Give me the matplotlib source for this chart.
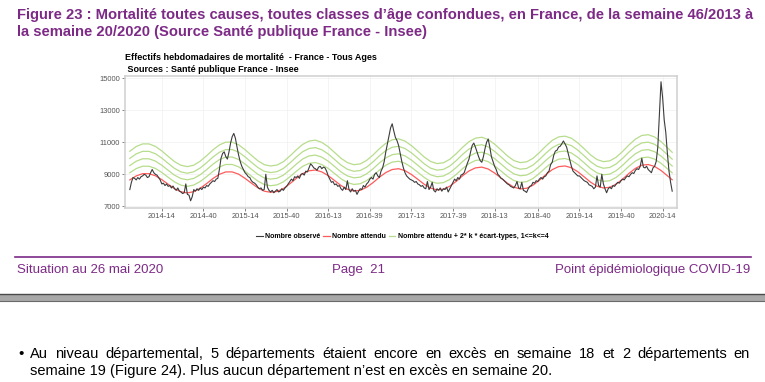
import matplotlib
matplotlib.use("Agg")
import matplotlib.pyplot as plt
from matplotlib.lines import Line2D

plt.rcParams['font.family'] = ['Liberation Sans', 'DejaVu Sans']

# semaines 46/2013 -> 20/2020, index 0..339
tick_pos = [20, 46, 72, 98, 124, 150, 176, 202, 228, 255, 281, 307, 333]
tick_labels = ["2014-14", "2014-40", "2015-14", "2015-40", "2016-13", "2016-39",
               "2017-13", "2017-39", "2018-13", "2018-40", "2019-14", "2019-40", "2020-14"]
y_ticks = [7000, 9000, 11000, 13000, 15000]

# nombre observe (hebdomadaire)
observed = [
    8050, 8500, 8800, 8750, 8650, 8800, 8700, 8850, 8900, 9000,
    8950, 8800, 8850, 9100, 9300, 9100, 9000, 8950, 8800, 8650,
    8400, 8450, 8300, 8400, 8250, 8300, 8150, 8270, 8100, 8000,
    8150, 7950, 7900, 7800, 7850, 8400, 7750, 7700, 7350, 7600,
    8050, 7950, 8100, 8000, 8150, 8050, 8200, 8150, 8300, 8250,
    8400, 8500, 8600, 8550, 8700, 8750, 9300, 10000, 10300, 10400,
    10100, 9950, 10400, 10950, 11350, 11550, 11250, 10700, 10200, 9800,
    9500, 9300, 9100, 9000, 8850, 8800, 8600, 8500, 8450, 8350,
    8200, 8100, 8150, 8000, 8050, 9000, 8200, 8000, 7900, 8000,
    7850, 7950, 8050, 7900, 7950, 8100, 8000, 8150, 8250, 8400,
    8550, 8700, 8600, 8850, 8800, 8900, 8750, 9000, 9050, 8950,
    9200, 9150, 9400, 9650, 9550, 9400, 9350, 9250, 9450, 9500,
    9350, 9450, 9400, 9200, 8900, 8700, 8500, 8550, 8350, 8400,
    8250, 8300, 8100, 8000, 8200, 8050, 8600, 8050, 7900, 8100,
    7950, 8000, 7750, 7950, 8100, 8050, 8300, 8200, 8400, 8500,
    8700, 8800, 8700, 9000, 9100, 8900, 8800, 9200, 9400, 9800,
    10400, 10900, 11400, 11900, 12150, 11700, 11300, 11100, 10800, 10300,
    9800, 9400, 9100, 8900, 8800, 8700, 8650, 8600, 8500, 8550,
    8400, 8350, 8250, 8300, 8150, 8100, 8550, 8050, 8200, 8500,
    8000, 7900, 8100, 8000, 8150, 7950, 8100, 8050, 8200, 7900,
    8100, 8300, 8500, 8700, 8600, 8800, 8700, 8950, 9000, 9100,
    9400, 9700, 9950, 10400, 10800, 10950, 10700, 10400, 10100, 9850,
    9750, 10100, 10600, 11000, 11200, 10700, 10100, 9800, 9500, 9300,
    9000, 8900, 8750, 8700, 8600, 8500, 8400, 8350, 8250, 8200,
    8150, 8300, 8550, 8150, 8100, 8500, 8000, 7950, 7870, 8100,
    8250, 8300, 8500, 8450, 8600, 8550, 8700, 8800, 8700, 8850,
    8900, 9100, 9200, 9600, 9750, 10200, 10450, 10500, 10700, 10750,
    10900, 11080, 10900, 10700, 10300, 9900, 9500, 9200, 9100, 9000,
    8900, 8900, 8800, 8700, 8600, 8550, 8500, 8350, 8300, 8250,
    8100, 8200, 8900, 8300, 8200, 9000, 8400, 8100, 7850, 8100,
    8200, 8100, 8300, 8250, 8400, 8500, 8450, 8600, 8700, 8650,
    8800, 8900, 8850, 9000, 9100, 9050, 9250, 9350, 9300, 9500,
    10000, 9450, 9400, 9500, 9300, 9200, 9100, 9400, 9500, 9800,
    10700, 12800, 14770, 13800, 12400, 11600, 10300, 9200, 8500, 7950,
]

# nombre attendu, lu toutes les 4 semaines
expected_weeks = list(range(0, 337, 4)) + [339]
expected = [
    8650, 8900, 9040, 9040, 8910, 8670, 8380, 8100, 7910, 7840,
    7920, 8130, 8420, 8740, 9000, 9150, 9150, 9010, 8750, 8450,
    8160, 7950, 7880, 7930, 8110, 8410, 8740, 9040, 9220, 9270,
    9150, 8920, 8610, 8300, 8070, 7960, 8000, 8190, 8480, 8820,
    9110, 9300, 9350, 9230, 8990, 8690, 8380, 8140, 8030, 8070,
    8260, 8560, 8910, 9210, 9400, 9450, 9330, 9080, 8770, 8450,
    8200, 8090, 8130, 8320, 8630, 8980, 9290, 9480, 9520, 9410,
    9160, 8840, 8510, 8260, 8150, 8190, 8390, 8700, 9060, 9370,
    9570, 9610, 9490, 9240, 8910, 8660,
]
# 2 * ecart-type aux memes semaines
ecart = [
    447, 458, 464, 464, 458, 447, 434, 422, 413, 410,
    413, 422, 434, 447, 458, 464, 464, 458, 447, 434,
    422, 413, 410, 412, 419, 431, 444, 456, 463, 465,
    460, 450, 438, 425, 415, 410, 412, 419, 431, 444,
    456, 463, 465, 460, 450, 438, 425, 415, 410, 412,
    419, 431, 444, 456, 463, 465, 460, 450, 438, 425,
    415, 410, 412, 419, 431, 444, 456, 463, 465, 460,
    450, 438, 425, 415, 410, 412, 419, 431, 444, 456,
    463, 465, 460, 450, 438, 428,
]

W, H = 765, 382
purple = '#7d2a86'
green = '#b7dd8c'
red = '#ff5b5b'
black = '#3c3c3c'


def fx(x):
    return x / W


def fy(y):
    return 1 - y / H


fig = plt.figure(figsize=(W / 100, H / 100), dpi=100)
fig.patch.set_facecolor('white')

ax = fig.add_axes([fx(125), fy(208), fx(677) - fx(125), fy(76) - fy(208)])
for k in range(1, 5):
    ax.plot(expected_weeks, [e + k * s for e, s in zip(expected, ecart)],
            color=green, lw=0.9, zorder=2)
ax.plot(expected_weeks, expected, color=red, lw=0.9, zorder=3)
ax.plot(range(len(observed)), observed, color=black, lw=0.8, zorder=4)

ax.set_xlim(-3, 342)
ax.set_ylim(6900, 15130)
ax.set_xticks(tick_pos)
ax.set_xticklabels(tick_labels)
ax.set_yticks(y_ticks)
ax.tick_params(labelsize=5.4, colors='#555555', length=2, width=0.5, pad=1.5)
ax.grid(True, color='#f0f0f0', lw=0.5)
ax.set_axisbelow(True)
for sp in ax.spines.values():
    sp.set_color('#cfcfcf')
    sp.set_linewidth(1.1)

fig.text(fx(125), fy(58), "Effectifs hebdomadaires de mortalité  - France - Tous Ages",
         fontsize=6.5, weight='bold', va='center')
fig.text(fx(125), fy(69), " Sources : Santé publique France - Insee",
         fontsize=6.5, weight='bold', va='center')

handles = [Line2D([], [], color=black, lw=0.8),
           Line2D([], [], color=red, lw=0.9),
           Line2D([], [], color=green, lw=0.9)]
fig.legend(handles, ["Nombre observé", "Nombre attendu",
                     "Nombre attendu + 2* k * écart-types, 1<=k<=4"],
           loc='center', bbox_to_anchor=(fx(402), fy(237)), ncol=3, frameon=False,
           prop={'size': 5, 'weight': 'bold'}, handlelength=1.0,
           handletextpad=0.3, columnspacing=0.4)

# titre de la figure
narrow = ['Liberation Sans Narrow', 'Liberation Sans', 'DejaVu Sans']
t1 = fig.text(fx(17), fy(15), "Figure 23 : Mortalité toutes causes, toutes classes d’âge confondues, "
              "en France, de la semaine 46/2013 à", fontsize=11, weight='bold',
              color=purple, va='center', family=narrow)
t2 = fig.text(fx(17), fy(32), "la semaine 20/2020 (Source Santé publique France - Insee)",
              fontsize=11, weight='bold', color=purple, va='center', family=narrow)

# pied de page
fig.add_artist(Line2D([fx(15), fx(751)], [fy(257), fy(257)], color=purple, lw=1.2))
fig.text(fx(17), fy(270), "Situation au 26 mai 2020", fontsize=9.5, color=purple,
         va='center', family=narrow)
fig.text(fx(359), fy(270), "Page  21", fontsize=9.5, color=purple, va='center',
         ha='center', family=narrow)
fig.text(fx(750), fy(270), "Point épidémiologique COVID-19", fontsize=9.5,
         color=purple, va='center', ha='right', family=narrow)

fig.patches.append(plt.Rectangle((0, fy(301)), 1, fy(294) - fy(301),
                                 transform=fig.transFigure, facecolor='#a8a8a8',
                                 edgecolor='none'))
fig.add_artist(Line2D([0, 1], [fy(294), fy(294)], color='#4a4a4a', lw=1.0))
fig.add_artist(Line2D([0, 1], [fy(301), fy(301)], color='#6a6a6a', lw=0.8))

# texte a puces, premiere ligne justifiee
fig.text(fx(18), fy(354), "•", fontsize=11, va='center')
line1 = ("Au niveau départemental, 5 départements étaient encore en excès en semaine 18 "
         "et 2 départements en")
line2 = "semaine 19 (Figure 24). Plus aucun département n’est en excès en semaine 20."
fig.canvas.draw()
r = fig.canvas.get_renderer()

# ajuster la taille du titre a la largeur de la page
w1 = t1.get_window_extent(r).width
if w1 > 740:
    s = 11 * 740 / w1
    t1.set_fontsize(s)
    t2.set_fontsize(s)

words = line1.split()
texts = [fig.text(0, fy(354), w, fontsize=10.5, va='center') for w in words]
fig.canvas.draw()
widths = [t.get_window_extent(r).width for t in texts]
gap = (750 - 30 - sum(widths)) / (len(words) - 1)
x = 30
for t, w in zip(texts, widths):
    t.set_x(fx(x))
    x += w + gap
fig.text(fx(30), fy(371), line2, fontsize=10.5, va='center')

fig.savefig("out.png", dpi=100, facecolor='white')
